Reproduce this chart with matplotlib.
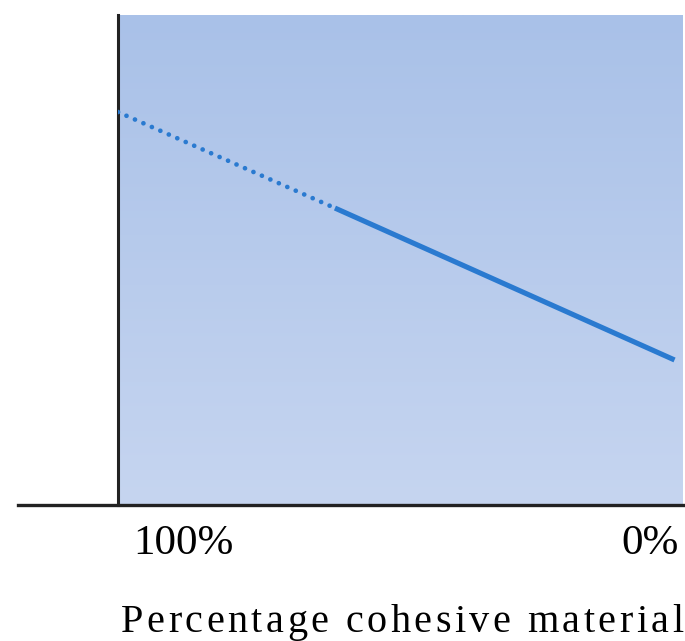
import numpy as np
import matplotlib
matplotlib.use("Agg")
import matplotlib.pyplot as plt
from matplotlib.colors import LinearSegmentedColormap
from matplotlib.lines import Line2D
from matplotlib.font_manager import FontProperties

# Data (normalized axis units)
dotted_x = [0.0, 0.384]
dotted_y = [0.802, 0.606]
solid_x = [0.384, 0.985]
solid_y = [0.606, 0.296]
tick_labels = ["100%", "0%"]
tick_pos = [0.115, 0.942]
xlabel = "Percentage cohesive material"

W, H = 685, 641
fig = plt.figure(figsize=(W / 100, H / 100), dpi=100)
left, right, top, bottom = 118, 683, 15, 505
ax = fig.add_axes([left / W, 1 - bottom / H, (right - left) / W, (bottom - top) / H])
ax.set_xlim(0, 1)
ax.set_ylim(0, 1)

cmap = LinearSegmentedColormap.from_list("bg", ["#C6D5F0", "#A9C1E8"])
grad = np.linspace(0, 1, 256).reshape(-1, 1)
ax.imshow(grad, extent=[0, 1, 0, 1], origin="lower", aspect="auto", cmap=cmap, zorder=0)

line_color = "#2A7AD0"
ax.plot(dotted_x, dotted_y, linestyle=(0, (0.01, 1.95)), color=line_color, lw=3.4,
        dash_capstyle="round", zorder=3)
ax.plot(solid_x, solid_y, linestyle="-", color=line_color, lw=3.7, solid_capstyle="butt", zorder=3)

for s in ["top", "right", "bottom"]:
    ax.spines[s].set_visible(False)
ax.spines["left"].set_linewidth(2.2)
ax.spines["left"].set_color("#222222")
ax.set_yticks([])
ax.set_xticks(tick_pos)
ax.set_xticklabels(tick_labels, fontfamily="Liberation Serif", fontsize=31)
ax.tick_params(axis="x", length=0, pad=14)

# baseline extending left
fig.add_artist(Line2D([18 / W, right / W], [1 - bottom / H, 1 - bottom / H],
                      color="#222222", lw=2.4, transform=fig.transFigure))

# letter-spaced x label
prop = FontProperties(family="Liberation Serif", size=29)
renderer = fig.canvas.get_renderer()
def width(s):
    if not s:
        return 0.0
    w, h, d = renderer.get_text_width_height_descent(s, prop, ismath=False)
    return w
x0, x1, baseline = 121, 683, 632
natural = width(xlabel)
n = len(xlabel)
extra = ((x1 - x0) - natural) / (n - 1)
for i, ch in enumerate(xlabel):
    if ch == " ":
        continue
    px = x0 + width(xlabel[:i]) + i * extra
    fig.text(px / W, 1 - baseline / H, ch, ha="left", va="baseline", fontproperties=prop)

fig.savefig("out.png", dpi=100)
